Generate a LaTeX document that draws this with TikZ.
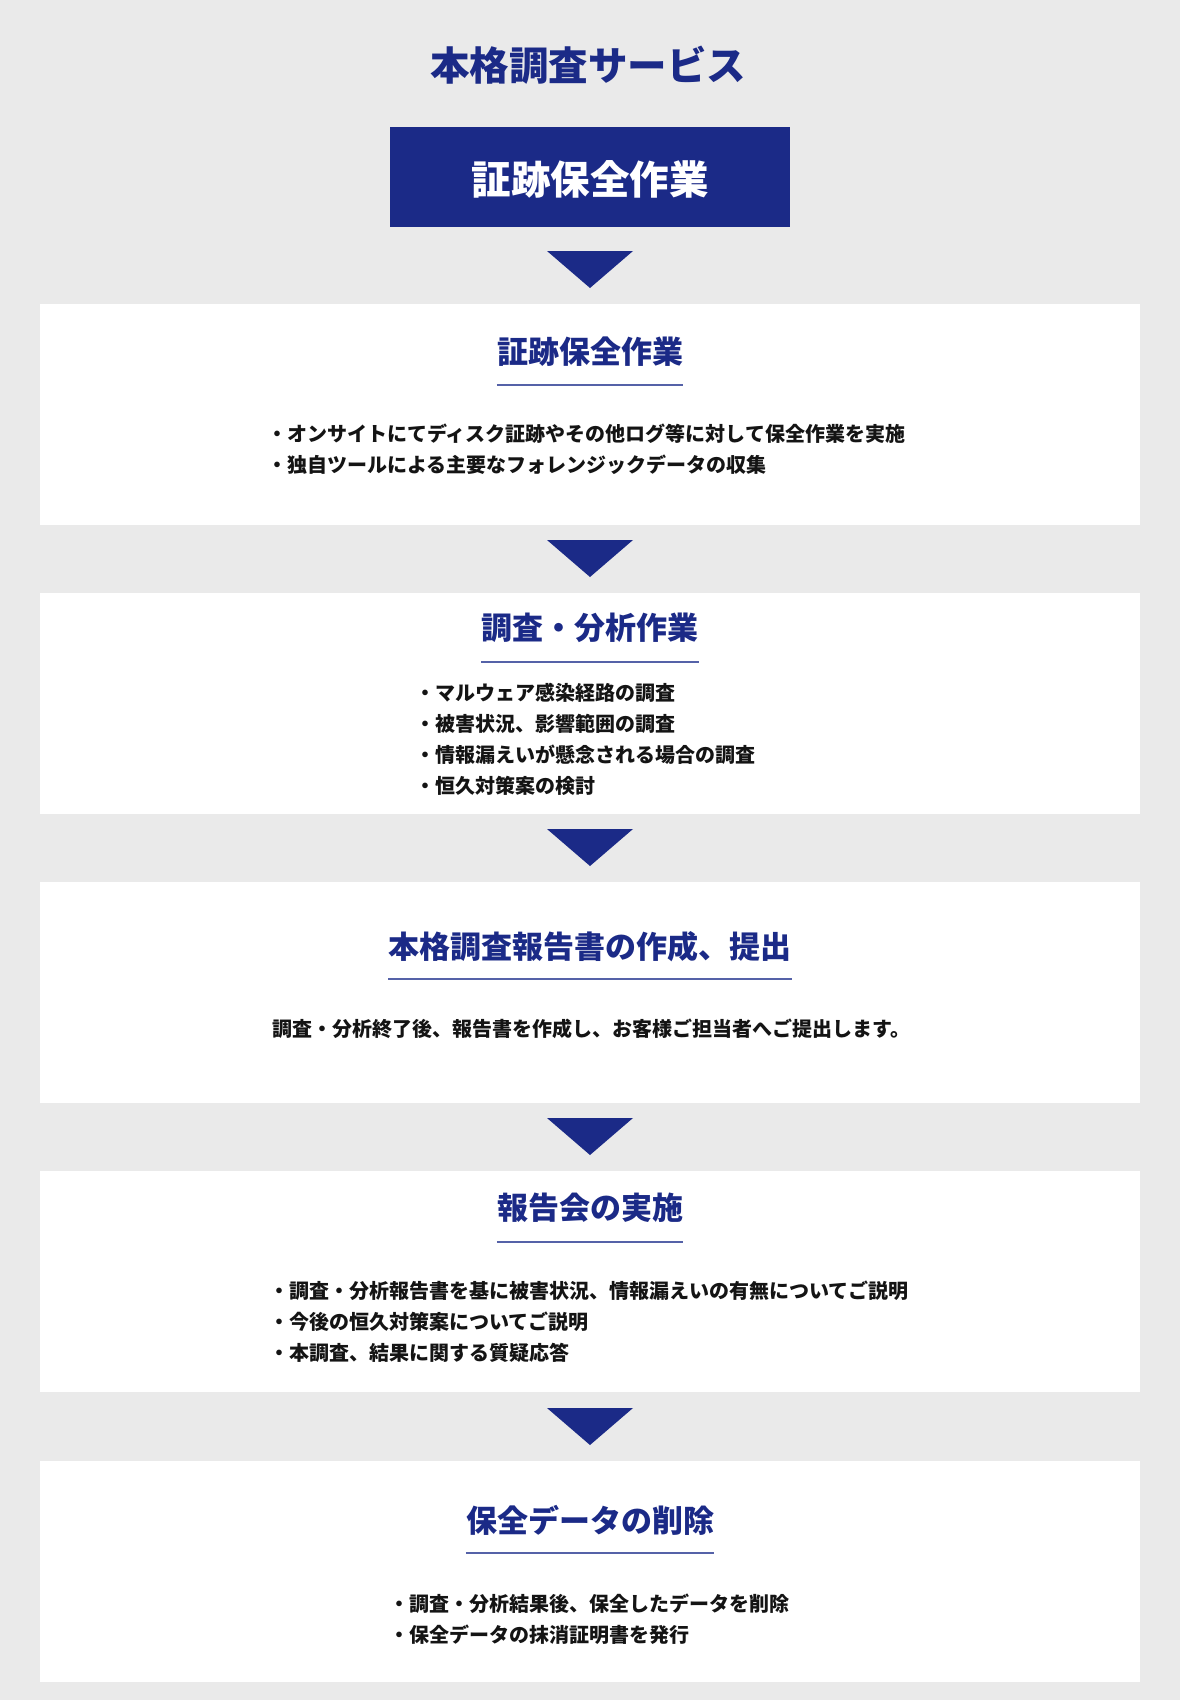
\documentclass[tikz,border=0pt]{standalone}
\usepackage{fontspec}
\newfontfamily\jp{Noto Sans CJK JP}
\usetikzlibrary{calc}
\definecolor{navy}{RGB}{27,42,135}
\definecolor{bggray}{RGB}{234,234,234}
\definecolor{ulblue}{RGB}{85,98,168}
\definecolor{ink}{RGB}{20,20,20}
\begin{document}
\begin{tikzpicture}[x=1pt,y=-1pt,
  whitebox/.style={fill=white,draw=none,minimum width=1100,minimum height=221,inner sep=0,anchor=north},
  navybox/.style={fill=navy,draw=none,minimum width=400,minimum height=100,inner sep=0},
  bigtitle/.style={font=\jp\bfseries\fontsize{39.5}{44}\selectfont,inner sep=0,anchor=base},
  head/.style={font=\jp\bfseries\fontsize{31}{36}\selectfont,text=navy,inner sep=0,anchor=base},
  bul/.style={font=\jp\bfseries\fontsize{20}{24}\selectfont,text=ink,inner sep=0,anchor=base west},
  plain/.style={font=\jp\bfseries\fontsize{20}{24}\selectfont,text=ink,inner sep=0,anchor=base},
  uline/.style={draw=ulblue,line width=1.3pt},
  tri/.style={fill=navy,draw=none}
]
\useasboundingbox (0,0) rectangle (1180,1700);
\fill[bggray] (0,0) rectangle (1180,1700);

% title
\node[bigtitle,text=navy] (title) at (588,80.8) {本格調査サービス};

% top navy box
\node[navybox] (b0) at (590,177) {};
\node[bigtitle,text=white] (b0t) at (590,194.3) {証跡保全作業};

% white boxes
\node[whitebox] (b1) at (590,304) {};
\node[whitebox] (b2) at (590,593) {};
\node[whitebox] (b3) at (590,882) {};
\node[whitebox] (b4) at (590,1171) {};
\node[whitebox] (b5) at (590,1461) {};

% triangles
\foreach \b in {b1,b2,b3,b4,b5}{
  \fill[tri] ($(\b.north)+(-43,-53)$) -- ($(\b.north)+(43,-53)$) -- ($(\b.north)+(0,-16)$) -- cycle;
}

% box 1
\node[head] (h1) at (590,363.3) {証跡保全作業};
\coordinate (u1) at (590,385);
\draw[uline] (h1.west |- u1) -- (h1.east |- u1);
\node[bul] (l11) at (267,441.5) {・オンサイトにてディスク証跡やその他ログ等に対して保全作業を実施};
\node[bul] (l12) at (267,472.8) {・独自ツールによる主要なフォレンジックデータの収集};

% box 2
\node[head] (h2) at (590,639.3) {調査・分析作業};
\coordinate (u2) at (590,662);
\draw[uline] (h2.west |- u2) -- (h2.east |- u2);
\node[bul] (l21) at (415,700.6) {・マルウェア感染経路の調査};
\node[bul] (l22) at (415,731.6) {・被害状況、影響範囲の調査};
\node[bul] (l23) at (415,762.6) {・情報漏えいが懸念される場合の調査};
\node[bul] (l24) at (415,793.6) {・恒久対策案の検討};

% box 3
\node[head] (h3) at (590,958.8) {本格調査報告書の作成、提出};
\coordinate (u3) at (590,979);
\draw[uline] (h3.west |- u3) -- (h3.east |- u3);
\node[plain] (l31) at (591,1036.6) {調査・分析終了後、報告書を作成し、お客様ご担当者へご提出します。};

% box 4
\node[head] (h4) at (590,1219.8) {報告会の実施};
\coordinate (u4) at (590,1242);
\draw[uline] (h4.west |- u4) -- (h4.east |- u4);
\node[bul] (l41) at (269,1298.6) {・調査・分析報告書を基に被害状況、情報漏えいの有無についてご説明};
\node[bul] (l42) at (269,1329.6) {・今後の恒久対策案についてご説明};
\node[bul] (l43) at (269,1360.6) {・本調査、結果に関する質疑応答};

% box 5
\node[head] (h5) at (590,1532.8) {保全データの削除};
\coordinate (u5) at (590,1553);
\draw[uline] (h5.west |- u5) -- (h5.east |- u5);
\node[bul] (l51) at (389,1611) {・調査・分析結果後、保全したデータを削除};
\node[bul] (l52) at (389,1642) {・保全データの抹消証明書を発行};
\end{tikzpicture}
\end{document}
